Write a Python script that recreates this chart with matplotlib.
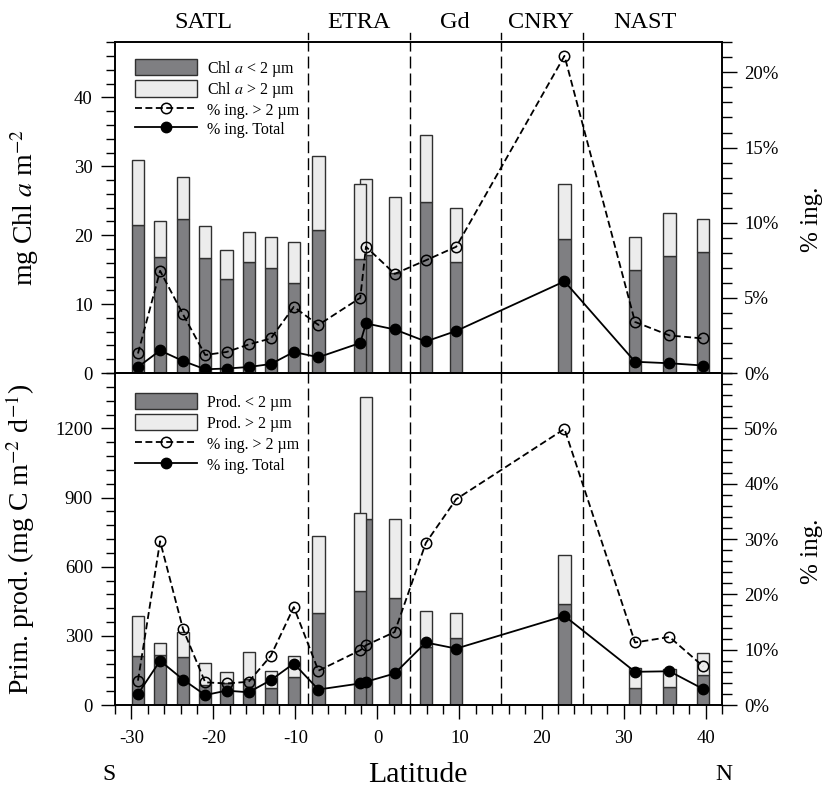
import numpy as np
import matplotlib.pyplot as plt
from matplotlib.ticker import MultipleLocator, FuncFormatter
from matplotlib.patches import Patch
from matplotlib.lines import Line2D

plt.rcParams['font.family'] = ['Liberation Serif', 'DejaVu Serif']
plt.rcParams['mathtext.fontset'] = 'stix'
plt.rcParams['lines.scale_dashes'] = False
plt.rcParams['axes.unicode_minus'] = False

# station latitudes (deg, S negative)
lat = [-29.2, -26.5, -23.7, -21.0, -18.4, -15.7, -13.0, -10.2, -7.2,
       -2.1, -1.4, 2.1, 5.9, 9.6, 22.8, 31.4, 35.6, 39.7]

# chlorophyll a (mg Chl a m-2)
chl_lt2 = [21.5, 16.9, 22.3, 16.7, 13.6, 16.1, 15.2, 13.1, 20.8,
           16.5, 17.2, 14.5, 24.8, 16.1, 19.5, 15.0, 17.0, 17.6]
chl_tot = [30.9, 22.0, 28.4, 21.4, 17.8, 20.5, 19.8, 19.0, 31.5,
           27.4, 28.1, 25.6, 34.6, 23.9, 27.5, 19.7, 23.3, 22.3]
chl_ing_gt2 = [1.3, 6.8, 3.9, 1.2, 1.4, 1.9, 2.3, 4.4, 3.2,
               5.0, 8.4, 6.6, 7.5, 8.4, 21.1, 3.4, 2.5, 2.3]
chl_ing_tot = [0.4, 1.5, 0.8, 0.25, 0.3, 0.4, 0.6, 1.4, 1.05,
               2.0, 3.3, 2.9, 2.1, 2.8, 6.1, 0.75, 0.65, 0.5]

# primary production (mg C m-2 d-1)
pp_lt2 = [212, 215, 209, 85, 95, 111, 72, 123, 398,
          496, 807, 463, 253, 289, 438, 75, 77, 130]
pp_tot = [387, 267, 315, 183, 142, 229, 149, 214, 734,
          831, 1334, 807, 409, 399, 650, 162, 157, 227]
pp_ing_gt2 = [4.4, 29.6, 13.7, 4.1, 3.9, 4.2, 8.9, 17.7, 6.2,
              9.9, 10.8, 13.2, 29.3, 37.2, 49.9, 11.3, 12.3, 7.0]
pp_ing_tot = [2.0, 8.0, 4.6, 1.8, 2.6, 2.3, 4.5, 7.5, 2.8,
              3.9, 4.2, 5.7, 11.3, 10.2, 16.1, 6.0, 6.1, 2.9]

# provinces
bounds = [-8.5, 4, 15, 25]
regions = ['SATL', 'ETRA', 'Gd', 'CNRY', 'NAST']
region_x = [-21.2, -2.2, 9.4, 19.9, 32.6]

DARK = '#7f7f82'
LIGHT = '#ececec'
EDGE = '#303030'
TICK = 13.5
LABEL = 20

fig = plt.figure(figsize=(8.29, 7.91), dpi=100)
ax1 = fig.add_axes([0.1387, 0.5284, 0.7322, 0.4181])
ax2 = fig.add_axes([0.1387, 0.1087, 0.7322, 0.4197], sharex=ax1)


def panel(ax, small, total, ing_gt2, ing_tot, ylim, yticks, minor,
          rlim, rticks, rminor, labels, legpos, legspace):
    lat_a = np.array(lat)[::-1]
    s = np.array(small)[::-1]
    t = np.array(total)[::-1]
    ax.bar(lat_a, s, width=1.5, color=DARK, edgecolor=EDGE, linewidth=1.0, zorder=2)
    ax.bar(lat_a, t - s, bottom=s, width=1.5, color=LIGHT, edgecolor=EDGE,
           linewidth=1.0, zorder=2)
    for b in bounds:
        ax.axvline(b, color='black', lw=1.0, ls=(0, (8.6, 3.6)), zorder=1)
    ax.set_xlim(-32, 42)
    ax.set_ylim(*ylim)
    ax.set_yticks(yticks)
    ax.yaxis.set_minor_locator(MultipleLocator(minor))
    ax.tick_params(axis='y', which='major', length=10, width=1, labelsize=TICK, pad=6)
    ax.tick_params(axis='y', which='minor', length=6.5, width=1)

    ar = ax.twinx()
    ar.plot(lat, ing_gt2, color='black', lw=1.3, ls=(0, (5, 2.5)), marker='o',
            ms=7.5, mfc='none', mec='black', mew=1.1, zorder=3)
    ar.plot(lat, ing_tot, color='black', lw=1.3, marker='o', ms=7.5,
            mfc='black', mec='black', zorder=3)
    ar.set_ylim(*rlim)
    ar.set_yticks(rticks)
    ar.yaxis.set_minor_locator(MultipleLocator(rminor))
    ar.yaxis.set_major_formatter(FuncFormatter(lambda v, p: f"{v:.0f}%"))
    ar.tick_params(axis='y', which='major', length=11, width=1, labelsize=TICK, pad=5)
    ar.tick_params(axis='y', which='minor', length=7, width=1)
    for a in (ax, ar):
        for sp in a.spines.values():
            sp.set_linewidth(1.2)

    handles = [Patch(facecolor=DARK, edgecolor=EDGE, linewidth=1.0),
               Patch(facecolor=LIGHT, edgecolor=EDGE, linewidth=1.0),
               Line2D([], [], color='black', lw=1.3, ls=(0, (5, 2.5)), marker='o',
                      ms=7.5, mfc='none', mec='black', mew=1.1),
               Line2D([], [], color='black', lw=1.3, marker='o', ms=7.5,
                      mfc='black')]
    ar.legend(handles, labels, loc='upper left', bbox_to_anchor=legpos,
              frameon=False, fontsize=11.5, handlelength=3.85, handleheight=1.2,
              labelspacing=legspace, handletextpad=0.65, borderpad=0, borderaxespad=0)
    return ar


ar1 = panel(ax1, chl_lt2, chl_tot, chl_ing_gt2, chl_ing_tot,
            (0, 48), [0, 10, 20, 30, 40], 2,
            (0, 22), [0, 5, 10, 15, 20], 1,
            [r'Chl $a$ < 2 µm', r'Chl $a$ > 2 µm', '% ing. > 2 µm', '% ing. Total'],
            (0.033, 0.951), 0.08)
ar2 = panel(ax2, pp_lt2, pp_tot, pp_ing_gt2, pp_ing_tot,
            (0, 1440), [0, 300, 600, 900, 1200], 60,
            (0, 60), [0, 10, 20, 30, 40, 50], 2,
            ['Prod. < 2 µm', 'Prod. > 2 µm', '% ing. > 2 µm', '% ing. Total'],
            (0.033, 0.940), 0.22)

ax1.tick_params(axis='x', which='both', bottom=False, labelbottom=False)
ax2.xaxis.set_major_locator(MultipleLocator(10))
ax2.xaxis.set_minor_locator(MultipleLocator(2))
ax2.tick_params(axis='x', which='major', length=10, width=1, labelsize=TICK, pad=8)
ax2.tick_params(axis='x', which='minor', length=6.5, width=1)

ax1.set_ylabel(r'mg Chl $a$ m$^{-2}$', fontsize=LABEL)
ax2.set_ylabel(r'Prim. prod. (mg C m$^{-2}$ d$^{-1}$)', fontsize=LABEL)
ax1.yaxis.set_label_coords(-0.122, 0.5)
ax2.yaxis.set_label_coords(-0.128, 0.5)
fig.text(812 / 829, 1 - 219 / 791, '% ing.', rotation=90, fontsize=18,
         ha='center', va='center')
fig.text(812 / 829, 1 - 551 / 791, '% ing.', rotation=90, fontsize=18,
         ha='center', va='center')

# province names and boundary marks above the top panel
for name, x in zip(regions, region_x):
    ax1.text(x, 1.061, name, transform=ax1.get_xaxis_transform(), fontsize=17.5,
             ha='center', va='center')
for b in bounds:
    ax1.plot([b, b], [1.011, 1.028], transform=ax1.get_xaxis_transform(),
             color='black', lw=1.0, clip_on=False)

fig.text(418 / 829, 1 - 775 / 791, 'Latitude', fontsize=21.5, ha='center', va='center')
fig.text(109 / 829, 1 - 774 / 791, 'S', fontsize=17, ha='center', va='center')
fig.text(724 / 829, 1 - 774 / 791, 'N', fontsize=17, ha='center', va='center')

fig.savefig('out.png', dpi=100)
